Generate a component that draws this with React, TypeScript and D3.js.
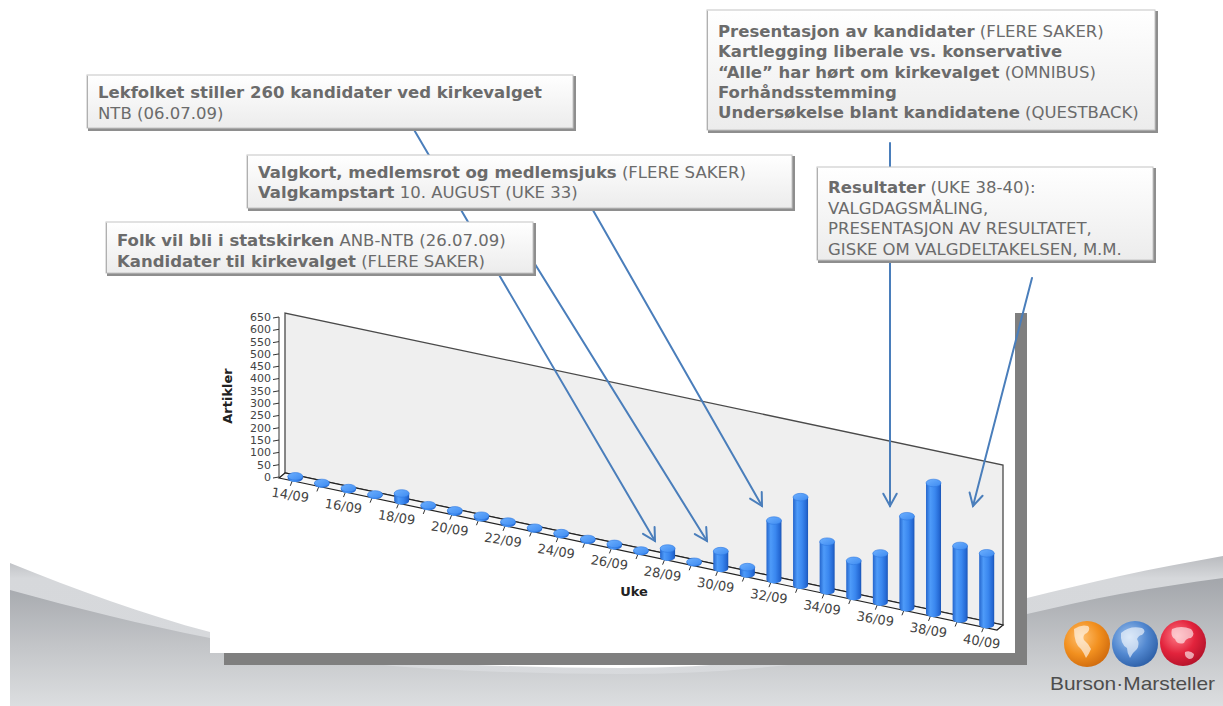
import * as d3 from 'd3';

// articles per week, uke 14 - 40 (2009)
const weeks = [14, 15, 16, 17, 18, 19, 20, 21, 22, 23, 24, 25, 26, 27, 28, 29, 30, 31, 32, 33, 34, 35, 36, 37, 38, 39, 40];
const articles = [8, 4, 6, 3, 30, 5, 7, 8, 7, 5, 6, 5, 8, 4, 35, 4, 70, 28, 240, 358, 200, 145, 198, 372, 530, 297, 290];
const yTicks = [0, 50, 100, 150, 200, 250, 300, 350, 400, 450, 500, 550, 600, 650];
const weekLabels = ['14/09', '16/09', '18/09', '20/09', '22/09', '24/09', '26/09', '28/09', '30/09', '32/09', '34/09', '36/09', '38/09', '40/09'];

type Seg = { t: string; b?: boolean };
const noteLekfolket: Seg[][] = [
  [{ t: 'Lekfolket stiller 260 kandidater ved kirkevalget', b: true }],
  [{ t: 'NTB (06.07.09)' }],
];
const noteValgkort: Seg[][] = [
  [{ t: 'Valgkort, medlemsrot og medlemsjuks', b: true }, { t: ' (FLERE SAKER)' }],
  [{ t: 'Valgkampstart', b: true }, { t: ' 10. AUGUST (UKE 33)' }],
];
const noteFolk: Seg[][] = [
  [{ t: 'Folk vil bli i statskirken', b: true }, { t: ' ANB-NTB (26.07.09)' }],
  [{ t: 'Kandidater til kirkevalget', b: true }, { t: ' (FLERE SAKER)' }],
];
const notePresentasjon: Seg[][] = [
  [{ t: 'Presentasjon av kandidater', b: true }, { t: ' (FLERE SAKER)' }],
  [{ t: 'Kartlegging liberale vs. konservative', b: true }],
  [{ t: '\u201CAlle\u201D har hørt om kirkevalget', b: true }, { t: ' (OMNIBUS)' }],
  [{ t: 'Forhåndsstemming', b: true }],
  [{ t: 'Undersøkelse blant kandidatene', b: true }, { t: ' (QUESTBACK)' }],
];
const noteResultater: Seg[][] = [
  [{ t: 'Resultater', b: true }, { t: ' (UKE 38-40):' }],
  [{ t: 'VALGDAGSMÅLING,' }],
  [{ t: 'PRESENTASJON AV RESULTATET,' }],
  [{ t: 'GISKE OM VALGDELTAKELSEN, M.M.' }],
];

const ARROW = '#4a7ebb';

function Note({ x, y, w, h, lines, first, gap }: { x: number; y: number; w: number; h: number; lines: Seg[][]; first: number; gap: number }) {
  return (
    <g>
      <rect x={x + 1} y={y + 1} width={w + 2} height={h + 2} fill="#8e8e8e" />
      <rect x={x} y={y} width={w} height={h} fill="url(#noteFill)" stroke="#c4c4c4" strokeWidth={1} />
      <line x1={x + 0.5} y1={y + 1} x2={x + 0.5} y2={y + h} stroke="#b0b0b0" />
      {lines.map((segs, i) => (
        <text key={i} x={x + 11} y={y + first + i * gap} fontFamily="DejaVu Sans, Verdana, sans-serif" fontSize={16.5} fill="#6b6b6b">
          {segs.map((s, j) => (
            <tspan key={j} fontWeight={s.b ? 'bold' : 'normal'}>{s.t}</tspan>
          ))}
        </text>
      ))}
    </g>
  );
}

function Arrow({ from, to }: { from: [number, number]; to: [number, number] }) {
  const ang = Math.atan2(to[1] - from[1], to[0] - from[0]);
  const len = 14;
  const spread = 0.5;
  const a1: [number, number] = [to[0] - len * Math.cos(ang - spread), to[1] - len * Math.sin(ang - spread)];
  const a2: [number, number] = [to[0] - len * Math.cos(ang + spread), to[1] - len * Math.sin(ang + spread)];
  return (
    <g stroke={ARROW} strokeWidth={2} fill="none" strokeLinecap="round">
      <line x1={from[0]} y1={from[1]} x2={to[0]} y2={to[1]} />
      <polyline points={`${a1[0]},${a1[1]} ${to[0]},${to[1]} ${a2[0]},${a2[1]}`} />
    </g>
  );
}

export default function App() {
  const W = 1223;
  const H = 706;

  // 3d-ish chart geometry: front edge of floor, slanted
  const fx0 = 279;
  const fx1 = 997;
  const fy0 = 478;
  const slope = 152 / 718;
  const dx = 6;
  const dy = -5;
  const frontY = (px: number) => fy0 + slope * (px - fx0);

  const y = d3.scaleLinear().domain([0, 650]).range([477, 317]);
  const x = d3.scaleBand<number>().domain(weeks).range([fx0, fx1]);
  const bw = x.bandwidth();
  const rx = 7.5;
  const ry = 3.8;
  const wallH = y(0) - y(650);

  const bars = weeks.map((w, i) => {
    const fx = (x(w) as number) + bw / 2;
    const cx = fx + dx / 2;
    const base = frontY(fx) + dy / 2;
    const h = y(0) - y(articles[i]);
    return { w, fx, cx, base, top: base - h };
  });

  const backL: [number, number] = [fx0 + dx, fy0 + dy];
  const backR: [number, number] = [fx1 + dx, frontY(fx1) + dy];
  const wall = [backL, [backL[0], backL[1] - wallH], [backR[0], backR[1] - wallH], backR];
  const floor = [[fx0, fy0], [fx1, frontY(fx1)], backR, backL];

  // background swoosh
  const curve = d3.line().curve(d3.curveMonotoneX);
  const topEdge: [number, number][] = [[10, 563], [110, 601], [210, 632], [420, 662], [620, 668], [830, 652], [1027, 598], [1120, 576], [1223, 556]];
  const innerEdge: [number, number][] = [[10, 590], [110, 616], [210, 638], [420, 668], [620, 674], [830, 660], [1027, 614], [1120, 594], [1223, 578]];
  const swooshTop = curve(topEdge) + `L${W},${H}L10,${H}Z`;
  const swooshInner = curve(innerEdge) + `L${W},${H}L10,${H}Z`;

  const globes = [
    { cx: 1087, cy: 644, id: 'gOr' },
    { cx: 1135, cy: 644, id: 'gBl' },
    { cx: 1183, cy: 643, id: 'gRd' },
  ];

  return (
    <svg width={W} height={H} style={{ position: 'absolute', left: 0, top: 0 }} viewBox={`0 0 ${W} ${H}`}>
      <defs>
        <linearGradient id="bgGray" x1="0" y1="0" x2="0" y2="1">
          <stop offset="0%" stopColor="#a3a6ab" />
          <stop offset="55%" stopColor="#c4c6c9" />
          <stop offset="100%" stopColor="#dcdee0" />
        </linearGradient>
        <linearGradient id="bgBand" x1="0" y1="0" x2="0" y2="1">
          <stop offset="0%" stopColor="#b9bbbf" />
          <stop offset="15%" stopColor="#d6d8db" />
          <stop offset="100%" stopColor="#d8dadd" />
        </linearGradient>
        <linearGradient id="noteFill" x1="0" y1="0" x2="0" y2="1">
          <stop offset="0%" stopColor="#ffffff" />
          <stop offset="100%" stopColor="#ececec" />
        </linearGradient>
        <linearGradient id="cyl" x1="0" y1="0" x2="1" y2="0">
          <stop offset="0%" stopColor="#2465cc" />
          <stop offset="28%" stopColor="#4e9bf9" />
          <stop offset="60%" stopColor="#3a87ef" />
          <stop offset="88%" stopColor="#2569d4" />
          <stop offset="100%" stopColor="#1b55b5" />
        </linearGradient>
        <linearGradient id="cylTop" x1="0" y1="0" x2="1" y2="1">
          <stop offset="0%" stopColor="#6db0ff" />
          <stop offset="100%" stopColor="#3d8af0" />
        </linearGradient>
        <radialGradient id="gOr" cx="0.38" cy="0.35" r="0.7">
          <stop offset="0%" stopColor="#ffc070" />
          <stop offset="55%" stopColor="#f2901f" />
          <stop offset="100%" stopColor="#cf6a0d" />
        </radialGradient>
        <radialGradient id="gBl" cx="0.38" cy="0.35" r="0.7">
          <stop offset="0%" stopColor="#a6c8f0" />
          <stop offset="55%" stopColor="#5288d0" />
          <stop offset="100%" stopColor="#2c5ea6" />
        </radialGradient>
        <radialGradient id="gRd" cx="0.38" cy="0.35" r="0.7">
          <stop offset="0%" stopColor="#ff7a86" />
          <stop offset="55%" stopColor="#e2233c" />
          <stop offset="100%" stopColor="#b3122a" />
        </radialGradient>
      </defs>

      <rect width={W} height={H} fill="#ffffff" />
      <path d={swooshTop} fill="url(#bgBand)" />
      <path d={swooshInner} fill="url(#bgGray)" />

      {/* chart panel with shadow */}
      <rect x={224} y={313} width={803} height={352} fill="#7f7f7f" />
      <rect x={210} y={300} width={805} height={353} fill="#ffffff" />

      <polygon points={wall.map((p) => p.join(',')).join(' ')} fill="#efefef" stroke="#4a4a4a" strokeWidth={1.3} />
      <polygon points={floor.map((p) => p.join(',')).join(' ')} fill="#f7f7f7" stroke="#222" strokeWidth={1.2} />

      {/* y axis */}
      <line x1={fx0} y1={y(650)} x2={fx0} y2={y(0)} stroke="#333" strokeWidth={1} />
      {yTicks.map((t) => (
        <g key={t}>
          <line x1={fx0 - 6} y1={y(t) + 1} x2={fx0} y2={y(t)} stroke="#333" />
          <text x={fx0 - 8} y={y(t)} dy="0.36em" textAnchor="end" fontFamily="DejaVu Sans, Verdana, sans-serif" fontSize={11} fill="#444">
            {t}
          </text>
        </g>
      ))}
      <text transform="translate(232,396) rotate(-90)" textAnchor="middle" fontFamily="DejaVu Sans, Verdana, sans-serif" fontWeight="bold" fontSize={13} fill="#222">
        Artikler
      </text>

      {/* x ticks and labels */}
      {bars.map((b) => (
        <line key={b.w} x1={b.fx} y1={frontY(b.fx)} x2={b.fx - 2} y2={frontY(b.fx) + 5} stroke="#333" />
      ))}
      {weekLabels.map((lab) => {
        const w = parseInt(lab, 10);
        const fx = (x(w) as number) + bw / 2;
        const ly = frontY(fx) + 14;
        return (
          <text key={lab} transform={`translate(${fx - 2},${ly}) rotate(9)`} textAnchor="middle" dy="0.36em" fontFamily="DejaVu Sans, Verdana, sans-serif" fontSize={13} fill="#444">
            {lab}
          </text>
        );
      })}
      <text x={634} y={591} dy="0.36em" textAnchor="middle" fontFamily="DejaVu Sans, Verdana, sans-serif" fontWeight="bold" fontSize={13} fill="#222">
        Uke
      </text>

      {/* cylinders */}
      {bars.map((b) => (
        <g key={b.w}>
          <path
            d={`M${b.cx - rx},${b.top}L${b.cx - rx},${b.base}A${rx},${ry} 0 0 0 ${b.cx + rx},${b.base}L${b.cx + rx},${b.top}Z`}
            fill="url(#cyl)"
          />
          <ellipse cx={b.cx} cy={b.top} rx={rx} ry={ry} fill="url(#cylTop)" stroke="#2f78e0" strokeWidth={0.6} />
        </g>
      ))}

      {/* callout arrows */}
      <Arrow from={[413, 128]} to={[655, 541]} />
      <Arrow from={[520, 240]} to={[707, 541]} />
      <Arrow from={[590, 205]} to={[762, 506]} />
      <Arrow from={[890, 143]} to={[890, 506]} />
      <Arrow from={[1032, 278]} to={[973, 506]} />

      {/* callout boxes */}
      <Note x={87} y={75} w={486} h={53} lines={noteLekfolket} first={23} gap={21} />
      <Note x={247} y={155} w={545} h={53} lines={noteValgkort} first={23} gap={20} />
      <Note x={106} y={222} w={427} h={51} lines={noteFolk} first={24} gap={21} />
      <Note x={707} y={10} w={448} h={120} lines={notePresentasjon} first={27} gap={20.3} />
      <Note x={817} y={167} w={336} h={93} lines={noteResultater} first={26} gap={20.5} />

      {/* logo */}
      {globes.map((g) => (
        <circle key={g.id} cx={g.cx} cy={g.cy} r={23} fill={`url(#${g.id})`} />
      ))}
      <g fill="#ffffff" opacity={0.6}>
        <path d="M1074,629 q7,-5 14,-3 q3,3 -1,7 q-5,2 -3,7 q4,3 7,9 q-2,5 -5,9 q-2,-5 -5,-9 q-7,-5 -7,-20 z" />
        <path d="M1121,633 q9,-8 21,-5 q5,3 0,7 q-3,0 -5,4 q3,5 0,10 q-5,4 -7,9 q-3,-5 -3,-10 q-7,-4 -6,-15 z" />
        <path d="M1172,629 q9,-4 19,0 q5,5 0,9 q-5,0 -7,5 q-7,2 -9,-4 q-5,-3 -3,-10 z" />
        <path d="M1185,652 q5,-2 9,2 q0,5 -5,5 q-5,-2 -4,-7 z" />
      </g>
      <text x={1050} y={690} textLength={165} lengthAdjust="spacingAndGlyphs" fontFamily="Liberation Sans Narrow, Arial Narrow, Liberation Sans, sans-serif" fontSize={19} fill="#4d4d4d">
        Burson·Marsteller
      </text>
    </svg>
  );
}
